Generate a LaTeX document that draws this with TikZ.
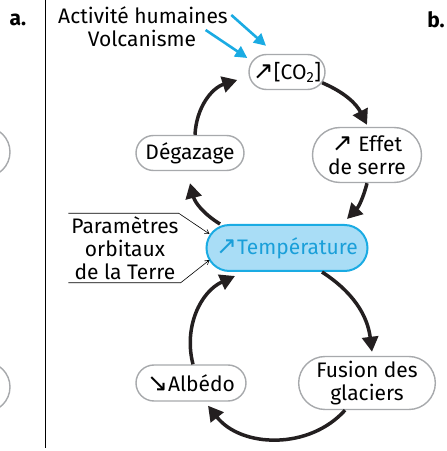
\documentclass[tikz,border=0pt]{standalone}
\usepackage{fontspec}
\setmainfont{Fira Sans}
\newfontfamily\arrowfont{DejaVu Sans}
\usepackage{xcolor}
\usepackage{tikz}
\usetikzlibrary{shapes,arrows.meta,positioning}

\definecolor{boxgray}{HTML}{A7A9AC}
\definecolor{cyanline}{HTML}{1AABE3}
\definecolor{cyanfill}{HTML}{A9DDF6}
\definecolor{cyantext}{HTML}{1A9FD9}
\definecolor{darkarrow}{HTML}{231F20}
\newcommand{\hausse}{{\arrowfont\fontsize{25}{23}\selectfont ↗}}
\newcommand{\baisse}{{\arrowfont\fontsize{25}{23}\selectfont ↘}}

\begin{document}
\begin{tikzpicture}[x=1pt, y=1pt, font=\fontsize{21}{23}\selectfont,
  state/.style={draw=boxgray, line width=1.4pt, rounded rectangle, fill=white, align=center, inner xsep=6pt},
  cycle/.style={draw=darkarrow, line width=3.5pt, -{Triangle[length=15pt,width=16pt]}},
  source/.style={draw=cyanline, line width=2.6pt, -{Triangle[length=12pt,width=12pt]}},
  pointer/.style={line width=0.6pt, -{Straight Barb[length=4pt,width=5pt]}}]
  \useasboundingbox (0,0) rectangle (447,451);

  % panel labels and separator
  \node[font=\fontsize{21}{23}\selectfont\bfseries] (lettera) at (18,431) {a.};
  \node[font=\fontsize{21}{23}\selectfont\bfseries] (letterb) at (436,431) {b.};
  \coordinate (septop) at (45,451);
  \coordinate (sepbot) at (45,3);
  \draw[line width=1pt] (septop) -- (sepbot);
  \node[state, minimum width=100pt, minimum height=50pt] (lefta) at (-34,299) {};
  \node[state, minimum width=100pt, minimum height=50pt] (leftb) at (-34,64) {};

  % cycle boxes
  \node[state, minimum width=88pt, minimum height=35pt] (co2) at (287,379) {\hausse[CO\textsubscript{2}]};
  \node[state, minimum width=120pt, minimum height=35pt] (degaz) at (190,298) {Dégazage};
  \node[state, minimum width=121pt, minimum height=55pt] (effet) at (367,296) {\hausse\ Effet\\de serre};
  \node[state, draw=cyanline, fill=cyanfill, text=cyantext, line width=2pt,
        minimum width=173pt, minimum height=46pt] (temp) at (287,203) {\hausse Température};
  \node[state, minimum width=135pt, minimum height=53pt, below of=effet, node distance=228pt] (fusion) {Fusion des\\glaciers};
  \node[state, minimum width=122pt, minimum height=36pt, left of=fusion, node distance=176pt] (albedo) {\baisse Albédo};

  % outside causes
  \node (act) at (143,436) {Activité humaines};
  \node (volc) at (142,413) {Volcanisme};
  \node[align=center, inner sep=1pt] (param) at (125,203) {Paramètres\\orbitaux\\de la Terre};

  \draw[source] (act.east) -- ([xshift=-21pt,yshift=8pt]co2.north);
  \draw[source] ([xshift=6pt,yshift=8pt]volc.east) -- ([xshift=-1pt,yshift=14pt]co2.west);
  \draw[pointer] ([xshift=-2pt,yshift=2pt]param.north west) -- ([xshift=-1pt,yshift=2pt]param.north east) -- ([xshift=4pt,yshift=14pt]temp.west);
  \draw[pointer] ([xshift=-2pt,yshift=-2pt]param.south west) -- ([xshift=1pt,yshift=-2pt]param.south east) -- ([xshift=4pt,yshift=-12pt]temp.west);

  % feedback loops
  \draw[cycle] (co2.-17) to[bend left=20] ([yshift=2pt]effet.north);
  \draw[cycle] (effet.south) to[bend left=15] ([xshift=60pt,yshift=5pt]temp.north);
  \draw[cycle] ([xshift=-67pt]temp.north) to[bend left=22] ([yshift=-12pt]degaz.south);
  \draw[cycle] ([xshift=5pt]degaz.north) to[bend left=35] ([xshift=-11pt,yshift=-8pt]co2.west);
  \draw[cycle] ([xshift=35pt]temp.south) to[bend left=25] ([xshift=5pt,yshift=4pt]fusion.north);
  \draw[cycle] ([xshift=-22pt]fusion.south) to[bend left=50] ([xshift=17pt,yshift=-4pt]albedo.south);
  \draw[cycle] ([xshift=2pt]albedo.north) to[bend left=40] ([xshift=-52pt,yshift=-4pt]temp.south);
\end{tikzpicture}
\end{document}
